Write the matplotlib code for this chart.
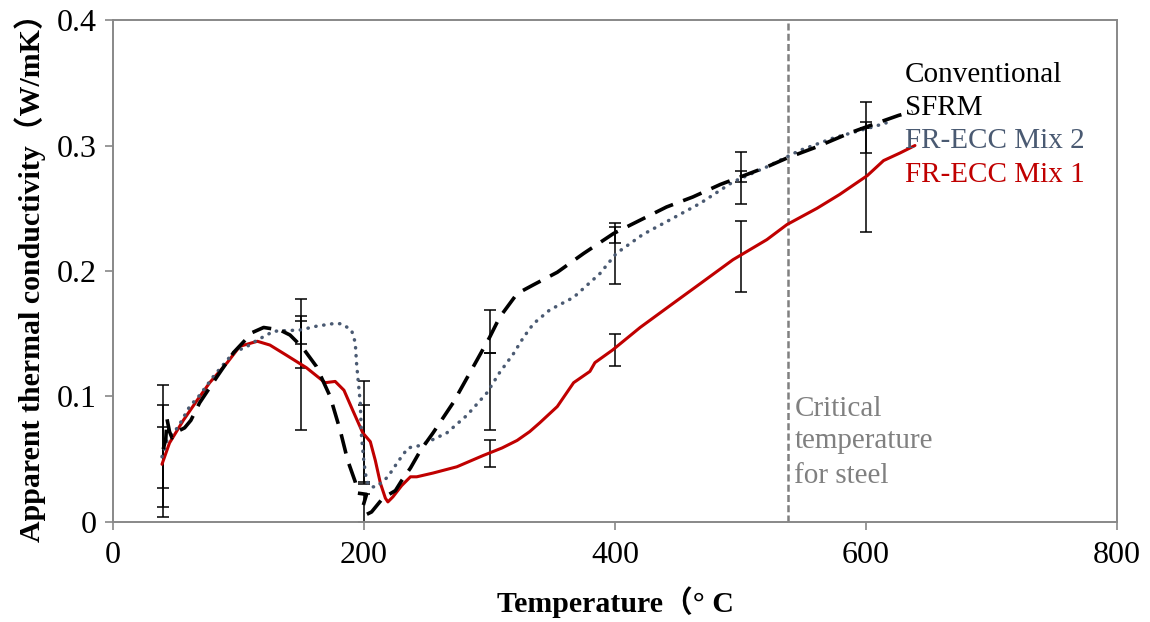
import matplotlib
matplotlib.use("Agg")
import matplotlib.pyplot as plt
import numpy as np

plt.rcParams['font.family'] = ['Liberation Serif', 'Noto Sans CJK SC', 'DejaVu Sans']

# Conventional SFRM (black dashed)
temp_sfrm = [40, 42, 43, 45, 47, 51, 57, 62, 69, 83, 96, 111, 120, 133, 141, 151, 162, 173, 181, 187,
             193, 195, 202, 199, 202, 206, 215, 225, 230, 237, 245, 255, 271, 290, 300, 308, 322, 335,
             354, 375, 399, 415, 441, 462, 484, 500, 521, 537, 561, 587, 609, 626, 637]
k_sfrm = [0.058, 0.066, 0.082, 0.072, 0.067, 0.072, 0.075, 0.081, 0.095, 0.116, 0.135, 0.151, 0.155, 0.153,
          0.149, 0.139, 0.124, 0.100, 0.073, 0.049, 0.032, 0.023, 0.022, 0.012, 0.006, 0.008, 0.019, 0.025,
          0.033, 0.043, 0.057, 0.071, 0.095, 0.129, 0.147, 0.163, 0.182, 0.189, 0.199, 0.214, 0.230, 0.238,
          0.251, 0.259, 0.269, 0.275, 0.283, 0.290, 0.299, 0.310, 0.318, 0.324, 0.327]

# FR-ECC Mix 2 (slate dotted)
temp_mix2 = [39, 43, 52, 61, 69, 80, 96, 107, 115, 128, 149, 162, 175, 182, 190, 193, 194, 195, 197, 198,
             200, 202, 205, 210, 219, 227, 235, 245, 266, 282, 298, 308, 319, 327, 335, 348, 367, 388, 401,
             422, 446, 468, 494, 521, 547, 574, 606, 616]
k_mix2 = [0.052, 0.065, 0.076, 0.092, 0.101, 0.116, 0.135, 0.140, 0.145, 0.152, 0.153, 0.156, 0.158, 0.158,
          0.153, 0.143, 0.127, 0.116, 0.095, 0.068, 0.047, 0.033, 0.028, 0.028, 0.036, 0.048, 0.059, 0.061,
          0.071, 0.085, 0.103, 0.119, 0.134, 0.147, 0.158, 0.169, 0.179, 0.198, 0.214, 0.229, 0.242, 0.254,
          0.271, 0.283, 0.296, 0.306, 0.315, 0.318]

# FR-ECC Mix 1 (red solid)
temp_mix1 = [39, 45, 56, 67, 77, 91, 101, 108, 115, 125, 138, 154, 169, 177, 184, 191, 199, 205, 209, 213,
             217, 219, 223, 230, 237, 242, 255, 274, 295, 310, 322, 332, 340, 354, 367, 380, 384, 398, 420,
             446, 468, 494, 521, 537, 561, 579, 601, 614, 627, 639]
k_mix1 = [0.046, 0.063, 0.081, 0.097, 0.111, 0.127, 0.140, 0.142, 0.144, 0.141, 0.133, 0.123, 0.111, 0.112,
          0.105, 0.089, 0.071, 0.064, 0.049, 0.031, 0.019, 0.016, 0.020, 0.029, 0.036, 0.036, 0.039, 0.044,
          0.053, 0.059, 0.065, 0.072, 0.079, 0.092, 0.111, 0.120, 0.127, 0.137, 0.155, 0.174, 0.190, 0.209,
          0.225, 0.237, 0.250, 0.261, 0.276, 0.288, 0.294, 0.300]

# error bars (low / high) at the measured temperatures
err_temp = [40, 150, 200, 300, 400, 500, 600]
sfrm_low = [0.027, 0.123, 0.000, 0.135, 0.222, 0.253, 0.294]
sfrm_high = [0.093, 0.160, 0.022, 0.169, 0.235, 0.295, 0.335]
mix2_low = [0.004, 0.142, 0.030, 0.073, 0.190, 0.271, 0.314]
mix2_high = [0.109, 0.164, 0.093, 0.135, 0.238, 0.280, 0.319]
mix1_low = [0.012, 0.073, 0.032, 0.044, 0.124, 0.183, 0.231]
mix1_high = [0.076, 0.178, 0.112, 0.065, 0.150, 0.240, 0.314]

critical_temp = 538

red = '#C00000'
slate = '#4A5A72'
grey = '#808080'

fig = plt.figure(figsize=(11.5, 6.22), dpi=100)
ax = fig.add_axes([0.0983, 0.1608, 0.873, 0.807])

for low, high in [(sfrm_low, sfrm_high), (mix2_low, mix2_high), (mix1_low, mix1_high)]:
    low = np.array(low)
    high = np.array(high)
    mid = (low + high) / 2
    ax.errorbar(err_temp, mid, yerr=(high - low) / 2, fmt='none', ecolor='black',
                elinewidth=1.1, capsize=4.5, capthick=1.1, zorder=2, clip_on=False)

ax.plot(temp_mix1, k_mix1, color=red, lw=2.2, zorder=3, solid_capstyle='round', solid_joinstyle='round')
ax.plot(temp_mix2, k_mix2, color=slate, lw=2.5, dashes=(0.1, 2.2), dash_capstyle='round', zorder=3)
ax.plot(temp_sfrm, k_sfrm, color='black', lw=2.6, dashes=(5.5, 3), zorder=4)

ax.axvline(critical_temp, color=grey, lw=1.8, dashes=(2.8, 1.3), zorder=1)

ax.set_xlim(0, 800)
ax.set_ylim(0, 0.4)
ax.set_xticks([0, 200, 400, 600, 800])
ax.set_yticks([0, 0.1, 0.2, 0.3, 0.4])
ax.set_yticklabels(['0', '0.1', '0.2', '0.3', '0.4'])

for s in ax.spines.values():
    s.set_color('#888888')
    s.set_linewidth(1.4)
ax.tick_params(direction='out', length=5.7, width=1.2, color='#888888', labelsize=23, pad=6)
ax.tick_params(axis='x', pad=8)

ax.set_xlabel('Temperature（° C', fontsize=21.5, fontweight='bold', labelpad=12)
ax.set_ylabel('Apparent thermal conductivity（W/mK）', fontsize=21.5, fontweight='bold', labelpad=8)

ax.text(631, 0.3506, 'Conventional', fontsize=21, color='black')
ax.text(631, 0.3243, 'SFRM', fontsize=21, color='black')
ax.text(631, 0.298, 'FR-ECC Mix 2', fontsize=21, color=slate)
ax.text(631, 0.271, 'FR-ECC Mix 1', fontsize=21, color=red)

ax.text(543, 0.0845, 'Critical', fontsize=21, color=grey)
ax.text(543, 0.0590, 'temperature', fontsize=21, color=grey)
ax.text(543, 0.0311, 'for steel', fontsize=21, color=grey)

fig.savefig('out.png', dpi=100)
